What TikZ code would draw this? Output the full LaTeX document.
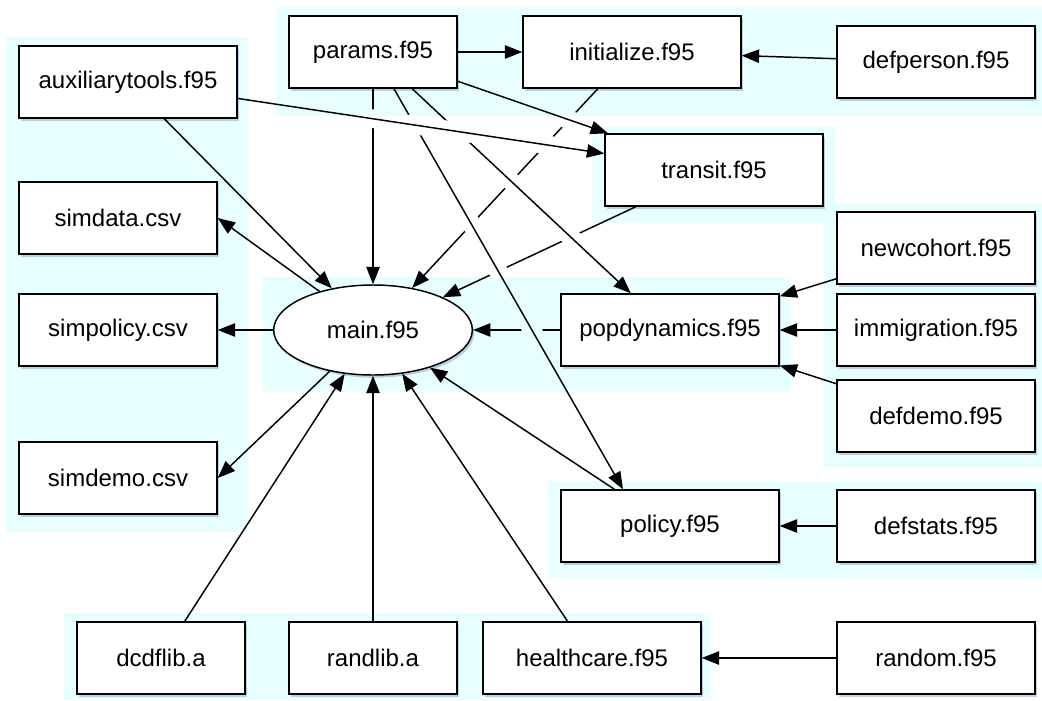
\documentclass[tikz,border=0pt]{standalone}
\usepackage{fontspec}
\setmainfont{Liberation Sans}
\usetikzlibrary{arrows.meta, shapes.geometric, shadows, calc}

\definecolor{panelcyan}{RGB}{232,255,255}
\definecolor{shadowblue}{RGB}{80,95,150}

\tikzset{
    filebox/.style={draw, fill=white, line width=1.1pt, inner sep=0pt,
        minimum width=163.5pt, minimum height=54pt,
        font=\fontsize{18}{21.6}\selectfont,
        drop shadow={shadow xshift=1.5pt, shadow yshift=-2pt, opacity=0.3, fill=shadowblue}},
    csvbox/.style={filebox, minimum width=148.5pt},
    libbox/.style={filebox, minimum width=126pt},
    mainfile/.style={filebox, ellipse, minimum width=149pt, minimum height=67.5pt},
    uses/.style={-{Triangle[length=13pt, width=10pt]}, line width=1.1pt},
    panel/.style={fill=panelcyan}
}

% strip round a crossing line, cut out of the lines below it
\newcommand{\gapstrip}[2]{%
    ($(#1)!7pt!90:(#2)$) -- ($(#2)!7pt!-90:(#1)$) --
    ($(#2)!7pt!90:(#1)$) -- ($(#1)!7pt!-90:(#2)$) -- cycle}

\begin{document}
\begin{tikzpicture}[x=0.75pt, y=-0.75pt]
    \useasboundingbox (0,0) rectangle (1042,700);

    % Groups
    \fill[panel] (6,37) rectangle (248,532);
    \fill[panel] (276,7) rectangle (1042,116);
    \fill[panel] (592,127) rectangle (835,223);
    \fill[panel] (262,277) rectangle (791,392);
    \fill[panel] (824,203) rectangle (1042,467);
    \fill[panel] (548,481) rectangle (1042,578);
    \fill[panel] (64,613) rectangle (711,700);

    % Source files
    \node[filebox] (aux) at (128,82) {auxiliarytools.f95};
    \node[libbox] (params) at (373,52) {params.f95};
    \node[filebox] (initialize) at (632,52) {initialize.f95};
    \node[csvbox] (defperson) at (936,62) {defperson.f95};
    \node[filebox] (transit) at (714,170) {transit.f95};
    \node[csvbox] (simdata) at (118,218) {simdata.csv};
    \node[csvbox] (newcohort) at (936,248) {newcohort.f95};
    \node[csvbox] (simpolicy) at (118,330) {simpolicy.csv};
    \node[mainfile] (main) at (373,330) {main.f95};
    \node[filebox] (popdynamics) at (670,330) {popdynamics.f95};
    \node[csvbox] (immigration) at (936,330) {immigration.f95};
    \node[csvbox] (defdemo) at (936,416) {defdemo.f95};
    \node[csvbox] (simdemo) at (118,478) {simdemo.csv};
    \node[filebox] (policy) at (670,526) {policy.f95};
    \node[csvbox] (defstats) at (936,526) {defstats.f95};
    \node[libbox] (dcdflib) at (161,658) {dcdflib.a};
    \node[libbox] (randlib) at (373,658) {randlib.a};
    \node[filebox] (healthcare) at (592,658) {healthcare.f95};
    \node[csvbox] (random) at (936,658) {random.f95};

    % Dependencies
    \draw[uses] (params) -- (initialize);
    \draw[uses] (defperson) -- (initialize);
    \draw[uses] (aux) -- (main);
    \draw[uses] (main) -- (simdata.east);
    \draw[uses] (main) -- (simpolicy.east);
    \draw[uses] (main) -- (simdemo.east);
    \draw[uses] (newcohort) -- (popdynamics);
    \draw[uses] (immigration) -- (popdynamics);
    \draw[uses] (defdemo) -- (popdynamics);
    \draw[uses] (policy) -- (main);
    \draw[uses] (defstats) -- (policy);
    \draw[uses] (dcdflib) -- (main);
    \draw[uses] (randlib) -- (main);
    \draw[uses] (healthcare) -- (main);
    \draw[uses] (random) -- (healthcare);

    % Lines with gaps where others cross them
    \begin{scope}[even odd rule]
        \clip (0,0) rectangle (1042,700)
            \gapstrip{aux}{transit} \gapstrip{params}{transit}
            \gapstrip{params}{popdynamics} \gapstrip{params}{policy.142};
        \draw[uses] (params) -- (main);
        \draw[uses] (initialize) -- (main);
        \draw[uses] (transit) -- (main);
        \draw[uses] (popdynamics) -- (main);
    \end{scope}
    \begin{scope}[even odd rule]
        \clip (0,0) rectangle (1042,700) \gapstrip{aux}{transit};
        \draw[uses] (params) -- (popdynamics);
        \draw[uses] (params) -- (policy.142);
    \end{scope}
    \draw[uses] (aux) -- (transit);
    \draw[uses] (params) -- (transit);

\end{tikzpicture}
\end{document}
